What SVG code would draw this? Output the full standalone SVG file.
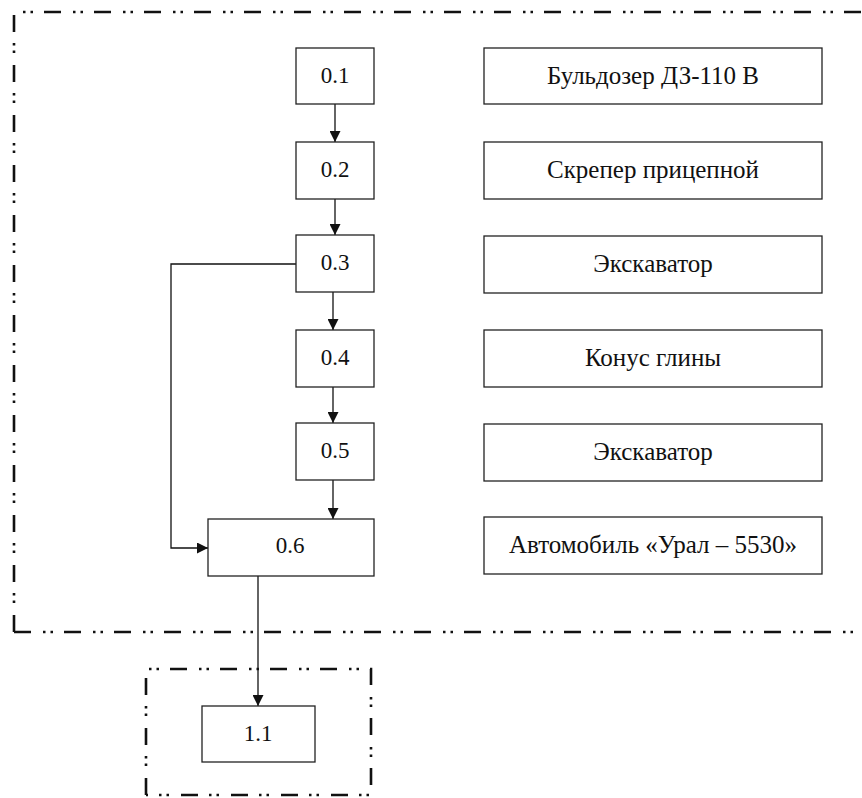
<svg xmlns="http://www.w3.org/2000/svg" width="862" height="798" viewBox="0 0 862 798">
  <style>
    .box { fill: #ffffff; stroke: #222222; stroke-width: 1.3; }
    .lbl { font-family: "Liberation Serif", "Times New Roman", serif; font-size: 25px; fill: #111111; text-anchor: middle; dominant-baseline: central; }
    .num { font-size: 23px; }
    .frame { fill: none; stroke: #111111; stroke-width: 2.6; stroke-dasharray: 17 12 2.5 5 2.5 11; }
    .link { fill: none; stroke: #111111; stroke-width: 1.3; }
  </style>
  <defs>
    <marker id="arrow" viewBox="0 0 10 10" refX="10" refY="5" markerWidth="11" markerHeight="11" markerUnits="userSpaceOnUse" orient="auto">
      <path d="M0,0 L10,5 L0,10 Z" fill="#111111"/>
    </marker>
  </defs>
  <rect width="862" height="798" fill="#ffffff"/>

  <!-- stage boundaries -->
  <g id="frames">
    <path class="frame" d="M14,632 L14,12 L862,12"/>
    <path class="frame" d="M14,632 L862,632"/>
    <path class="frame" d="M146,795 L146,669 L371,669 L371,795 L146,795"/>
  </g>

  <!-- connectors -->
  <g id="connectors">
    <line class="link" x1="335" y1="104" x2="335" y2="142" marker-end="url(#arrow)"/>
    <line class="link" x1="335" y1="199" x2="335" y2="235" marker-end="url(#arrow)"/>
    <line class="link" x1="333" y1="292" x2="333" y2="330" marker-end="url(#arrow)"/>
    <line class="link" x1="333" y1="387" x2="333" y2="423" marker-end="url(#arrow)"/>
    <line class="link" x1="333" y1="480" x2="333" y2="519" marker-end="url(#arrow)"/>
    <polyline class="link" points="296,264 171,264 171,548 208,548" marker-end="url(#arrow)"/>
    <line class="link" x1="258" y1="576" x2="258" y2="706" marker-end="url(#arrow)"/>
  </g>

  <!-- operation steps -->
  <g id="n01"><rect class="box" x="296" y="48" width="78" height="56"/><text class="lbl num" x="335" y="75">0.1</text></g>
  <g id="n02"><rect class="box" x="296" y="142" width="78" height="57"/><text class="lbl num" x="335" y="169">0.2</text></g>
  <g id="n03"><rect class="box" x="296" y="235" width="78" height="57"/><text class="lbl num" x="335" y="262">0.3</text></g>
  <g id="n04"><rect class="box" x="296" y="330" width="78" height="57"/><text class="lbl num" x="335" y="357">0.4</text></g>
  <g id="n05"><rect class="box" x="296" y="423" width="78" height="57"/><text class="lbl num" x="335" y="450">0.5</text></g>
  <g id="n06"><rect class="box" x="208" y="519" width="166" height="57"/><text class="lbl num" x="290" y="545">0.6</text></g>
  <g id="n11"><rect class="box" x="202" y="706" width="113" height="56"/><text class="lbl num" x="258" y="733">1.1</text></g>

  <!-- equipment -->
  <g id="e01"><rect class="box" x="484" y="48" width="338" height="56"/><text class="lbl" x="653" y="75">Бульдозер ДЗ-110 В</text></g>
  <g id="e02"><rect class="box" x="484" y="142" width="338" height="57"/><text class="lbl" x="653" y="169">Скрепер прицепной</text></g>
  <g id="e03"><rect class="box" x="484" y="236" width="338" height="57"/><text class="lbl" x="653" y="263">Экскаватор</text></g>
  <g id="e04"><rect class="box" x="484" y="330" width="338" height="57"/><text class="lbl" x="653" y="357">Конус глины</text></g>
  <g id="e05"><rect class="box" x="484" y="424" width="338" height="57"/><text class="lbl" x="653" y="451">Экскаватор</text></g>
  <g id="e06"><rect class="box" x="484" y="517" width="338" height="57"/><text class="lbl" x="653" y="544">Автомобиль «Урал – 5530»</text></g>
</svg>
